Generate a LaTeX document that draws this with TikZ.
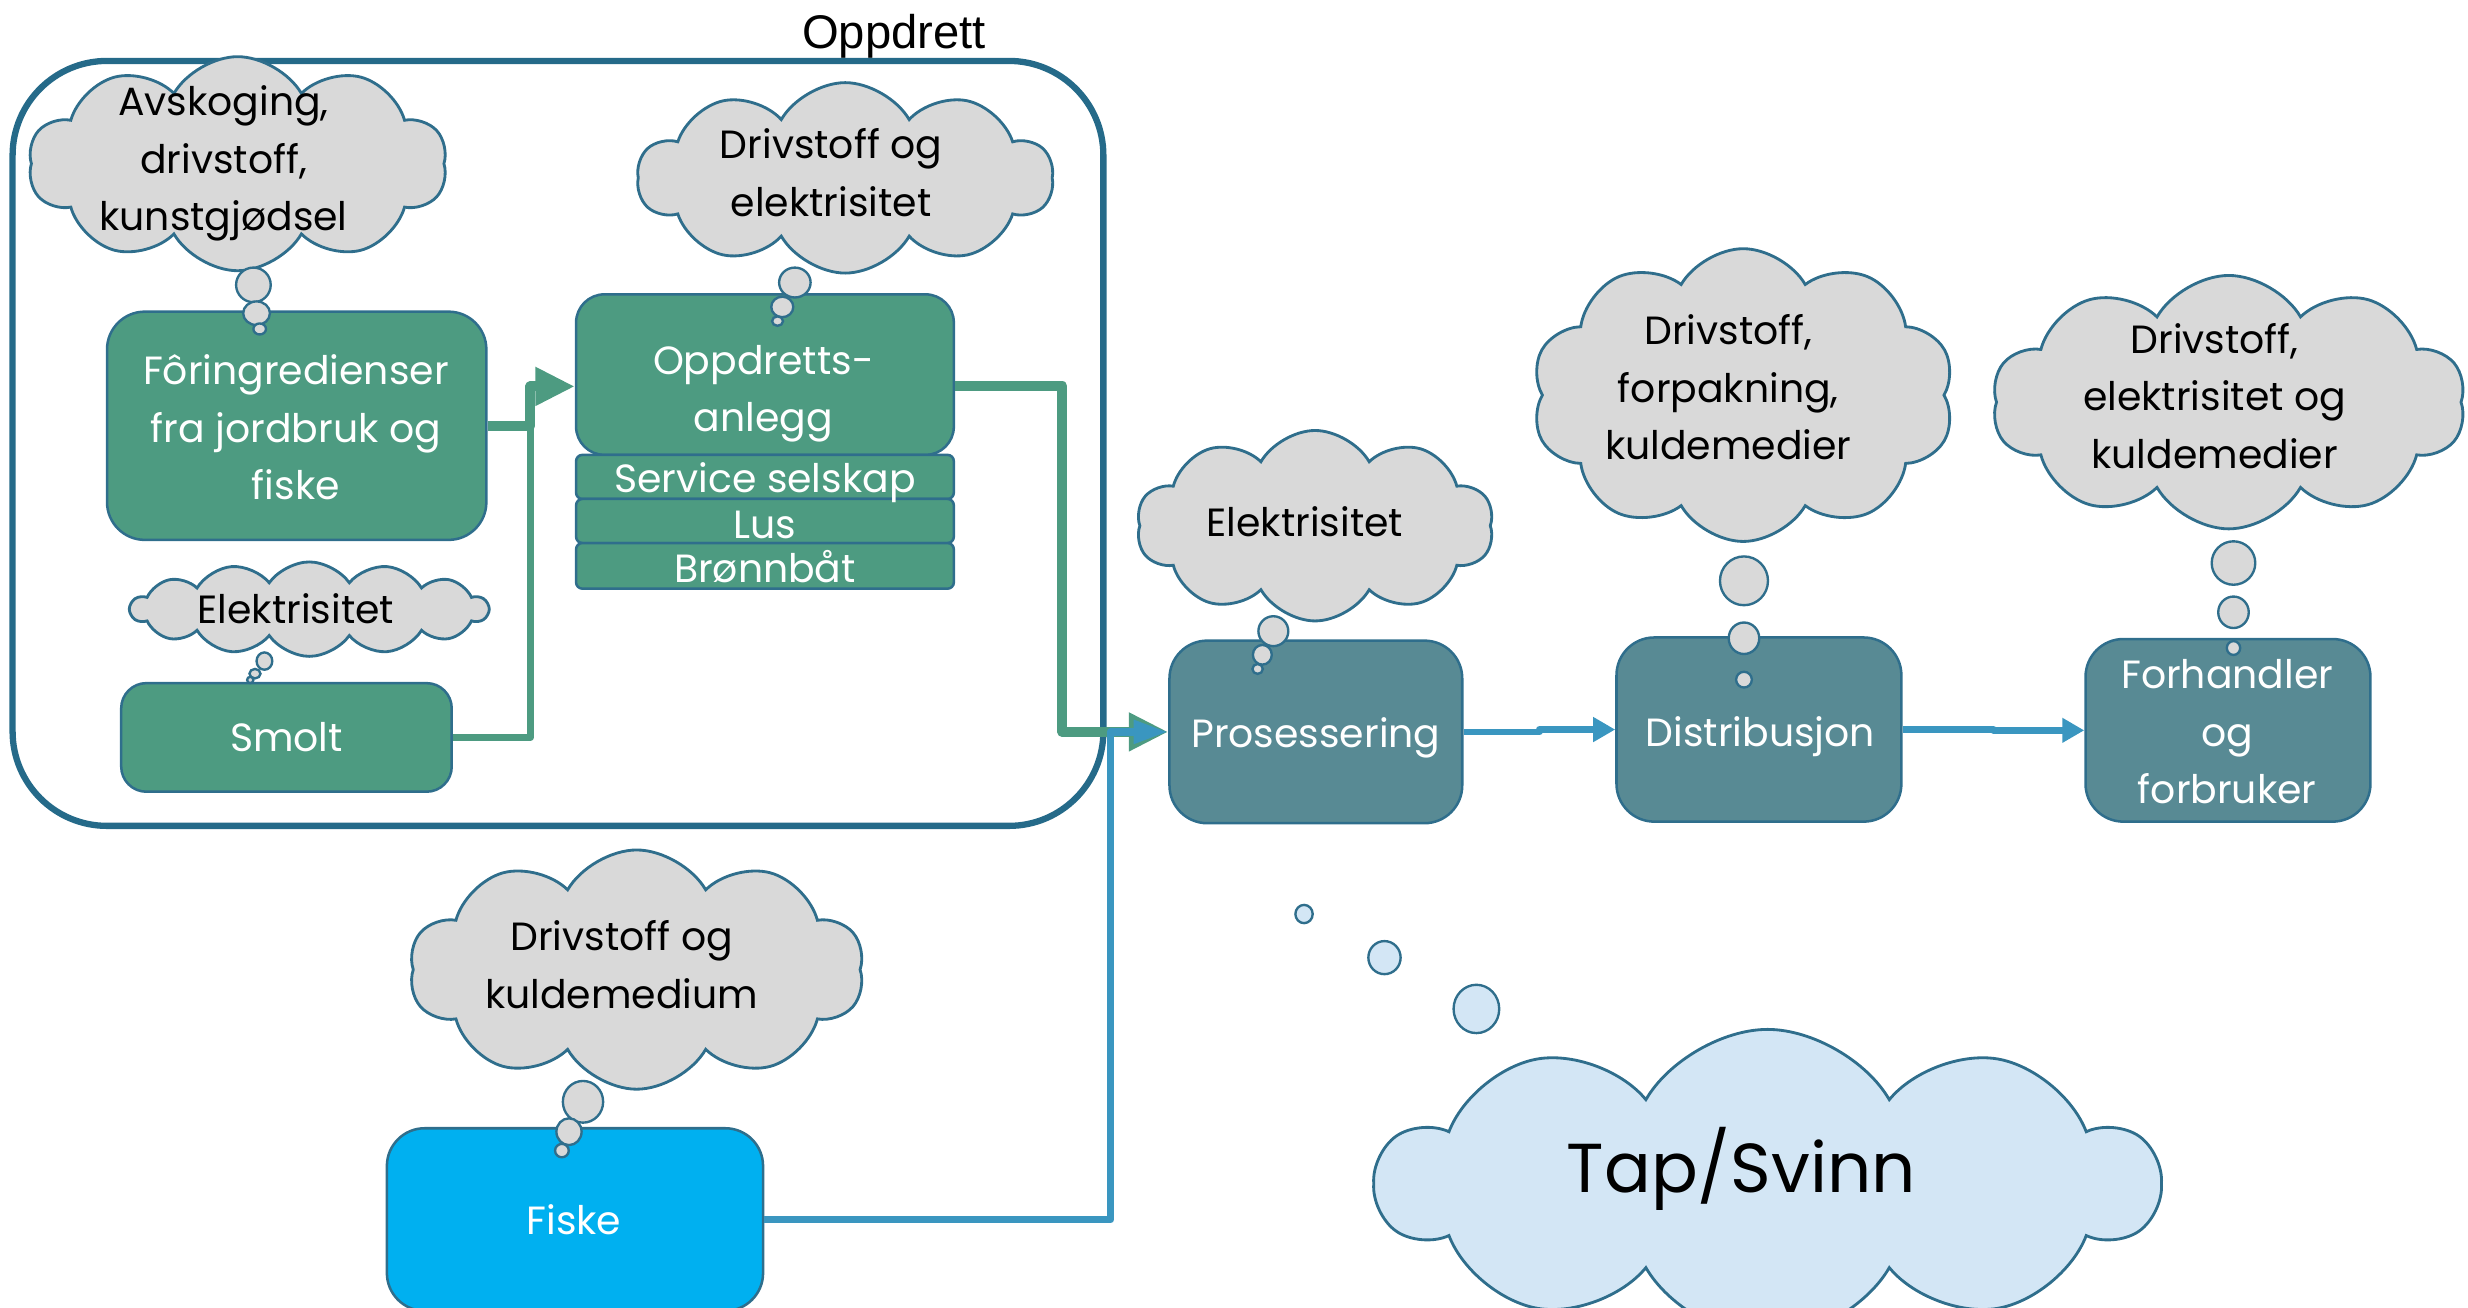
\documentclass[tikz,border=0pt]{standalone}
\usepackage{fontspec}
\setmainfont{Poppins}
\newfontfamily\tw{Poppins}
\newfontfamily\arialf{Liberation Sans}
\usetikzlibrary{shapes.symbols,shapes.geometric,arrows.meta,calc}
\definecolor{grn}{HTML}{4D9B81}
\definecolor{bordc}{HTML}{2F6E8C}
\definecolor{procc}{HTML}{588A94}
\definecolor{fiskec}{HTML}{00B0F0}
\definecolor{framec}{HTML}{256A89}
\definecolor{cloudg}{HTML}{D9D9D9}
\definecolor{tapc}{HTML}{D3E6F5}
\definecolor{bluel}{HTML}{3A96C0}
\newcommand{\ml}[1]{\begin{tabular}[t]{@{}c@{}}#1\end{tabular}}
\begin{document}
\begin{tikzpicture}[x=1pt,y=-1pt,
  box/.style={draw=bordc,line width=1.6pt,rounded corners=24pt,inner sep=0pt},
  gbox/.style={box,fill=grn},
  pbox/.style={box,fill=procc},
  sbox/.style={box,fill=grn,rounded corners=4pt,minimum width=240pt},
  cloudy/.style={cloud,cloud puffs=10,cloud puff arc=120,cloud ignores aspect,draw=bordc,line width=1.8pt,fill=cloudg,inner sep=0pt},
  bub/.style={ellipse,draw=bordc,line width=1.5pt,fill=cloudg,inner sep=0pt},
  tbub/.style={bub,fill=tapc},
  wt/.style={font=\tw\fontsize{25}{36.5}\selectfont,text=white,anchor=base,inner sep=0pt},
  bt/.style={wt,text=black},
  gline/.style={draw=grn,line width=4.5pt,line join=round},
  garrow/.style={draw=grn,line width=6.4pt,line join=round,-{Triangle[length=25pt,width=23pt]}},
  barrow/.style={draw=bluel,line width=5pt,line join=round,-{Triangle[length=22pt,width=14pt]}},
  sarrow/.style={draw=bluel,line width=4.3pt,line join=round,-{Triangle[length=14pt,width=15pt]}}
]
\useasboundingbox (0,0) rectangle (1568,830.4);

% frame
\node[draw=framec,line width=4pt,rounded corners=60pt,minimum width=693pt,minimum height=486pt,inner sep=0pt] (frame) at (354.5,281.7) {};
\node[font=\arialf\fontsize{30}{36}\selectfont,anchor=base,inner sep=0pt] (title) at (568,31) {Oppdrett};

% boxes
\node[gbox,minimum width=241pt,minimum height=145pt] (fore) at (188.5,270.5) {};
\node[gbox,minimum width=240pt,minimum height=102pt,rounded corners=18pt] (oppd) at (486,238) {};
\node[sbox,minimum height=28pt] (serv) at (486,303) {};
\node[sbox,minimum height=28pt] (lus) at (486,331) {};
\node[sbox,minimum height=29pt] (bronn) at (486,359.5) {};
\node[gbox,minimum width=210pt,minimum height=69pt,rounded corners=16pt] (smolt) at (182,468.5) {};
\node[box,fill=fiskec,minimum width=239pt,minimum height=116pt] (fiske) at (365.3,774.8) {};
\node[pbox,minimum width=186pt,minimum height=116pt] (proc) at (836,465) {};
\node[pbox,minimum width=181pt,minimum height=117pt] (dist) at (1117.5,463.5) {};
\node[pbox,minimum width=181pt,minimum height=116pt] (forh) at (1415.5,464) {};

% connectors
\coordinate (j1) at (337,245.5);
\draw[gline] (smolt.east) -| (j1);
\draw[garrow] (fore.east) -| (j1) -- (j1 -| oppd.west);
\coordinate (j2) at (675,245.5);
\coordinate (j3) at (675,465);
\draw[garrow] (oppd.east |- j2) -- (j2) -- (j3) -- (j3 -| proc.west);
\coordinate (j4) at (705.5,465);
\draw[barrow] (fiske.east) -| (j4) -- (j4 -| proc.west);
\draw[sarrow] (proc.east) -| ($(proc.east)!.5!(dist.west)$) |- (dist.west);
\draw[sarrow] (dist.east) -| ($(dist.east)!.5!(forh.west)$) |- (forh.west);

% clouds
\node[cloudy,minimum width=266pt,minimum height=136pt] (c1) at (151,104) {};
\node[bub,minimum width=22pt,minimum height=22pt] (c1a) at (161,181) {};
\node[bub,minimum width=17pt,minimum height=15pt] (c1b) at (163,199) {};
\node[bub,minimum width=8pt,minimum height=7pt] (c1c) at (165,209) {};

\node[cloudy,minimum width=264pt,minimum height=121pt] (c2) at (537,113) {};
\node[bub,minimum width=20pt,minimum height=19pt] (c2a) at (505,179.5) {};
\node[bub,minimum width=14pt,minimum height=13pt] (c2b) at (497,195) {};
\node[bub,minimum width=7pt,minimum height=6pt] (c2c) at (494,204) {};

\node[cloudy,cloud puffs=14,cloud puff arc=110,minimum width=227pt,minimum height=60pt] (c3) at (196.5,387) {};
\node[bub,minimum width=10pt,minimum height=11pt] (c3a) at (168,420) {};
\node[bub,minimum width=7pt,minimum height=6pt] (c3b) at (162,428) {};
\node[bub,minimum width=4pt,minimum height=4pt] (c3c) at (159,432) {};

\node[cloudy,minimum width=227pt,minimum height=121pt] (cp) at (835.5,334) {};
\node[bub,minimum width=19pt,minimum height=19pt] (cpa) at (809,401) {};
\node[bub,minimum width=12pt,minimum height=12.5pt] (cpb) at (802,416) {};
\node[bub,minimum width=6.6pt,minimum height=6.3pt] (cpc) at (799,425) {};

\node[cloudy,minimum width=269pt,minimum height=186pt] (cd) at (1107.5,251) {};
\node[bub,minimum width=30.5pt,minimum height=31pt] (cda) at (1108,369) {};
\node[bub,minimum width=19.4pt,minimum height=20pt] (cdb) at (1108,405.5) {};
\node[bub,minimum width=10pt,minimum height=10pt] (cdc) at (1108,431.8) {};

\node[cloudy,minimum width=301pt,minimum height=161pt] (cf) at (1416,255.5) {};
\node[bub,minimum width=27.7pt,minimum height=27.6pt] (cfa) at (1419,357.7) {};
\node[bub,minimum width=19.4pt,minimum height=20pt] (cfb) at (1419,389) {};
\node[bub,minimum width=8.5pt,minimum height=8.8pt] (cfc) at (1419,411.7) {};

\node[cloudy,minimum width=289pt,minimum height=152pt] (cfi) at (404.5,616) {};
\node[bub,minimum width=25.6pt,minimum height=26.5pt] (cfia) at (370.4,700) {};
\node[bub,minimum width=16pt,minimum height=17pt] (cfib) at (361.5,719) {};
\node[bub,minimum width=8.7pt,minimum height=8.5pt] (cfic) at (357,731) {};

\node[cloudy,fill=tapc,minimum width=496pt,minimum height=196pt] (tap) at (1123,752) {};
\node[tbub,minimum width=11pt,minimum height=11.6pt] (tapa) at (828.5,580.7) {};
\node[tbub,minimum width=20.5pt,minimum height=21pt] (tapb) at (879.6,608.4) {};
\node[tbub,minimum width=29pt,minimum height=30.7pt] (tapc) at (938,641) {};

% texts in boxes
\node[wt] (tfore) at (188,244.5) {\ml{Fôringredienser\\fra jordbruk og\\fiske}};
\node[wt] (toppd) at (485,237.8) {\ml{Oppdretts-\\anlegg}};
\node[wt] (tserv) at (486,312.8) {Service selskap};
\node[wt] (tlus) at (486,342) {Lus};
\node[wt] (tbronn) at (486,370) {Brønnbåt};
\node[wt] (tsmolt) at (182,477.6) {Smolt};
\node[wt] (tfiske) at (364.7,784.6) {Fiske};
\node[wt] (tproc) at (836,474.6) {Prosessering};
\node[wt] (tdist) at (1118.5,474) {Distribusjon};
\node[wt] (tforh) at (1415,437.5) {\ml{Forhandler\\og\\forbruker}};

% texts in clouds
\node[bt] (tc1) at (142,73.5) {\ml{Avskoging,\\drivstoff,\\kunstgjødsel}};
\node[bt] (tc2) at (528,101) {\ml{Drivstoff og\\elektrisitet}};
\node[bt] (tc3) at (188,396) {Elektrisitet};
\node[bt] (tcp) at (829,340.8) {Elektrisitet};
\node[bt] (tcd) at (1098,219) {\ml{Drivstoff,\\forpakning,\\kuldemedier}};
\node[bt] (tcf) at (1407,224.5) {\ml{Drivstoff,\\elektrisitet og\\kuldemedier}};
\node[bt] (tcfi) at (395,604) {\ml{Drivstoff og\\kuldemedium}};
\node[bt,font=\tw\fontsize{44}{55}\selectfont] (ttap) at (1106.4,757.7) {Tap/Svinn};
\end{tikzpicture}
\end{document}
